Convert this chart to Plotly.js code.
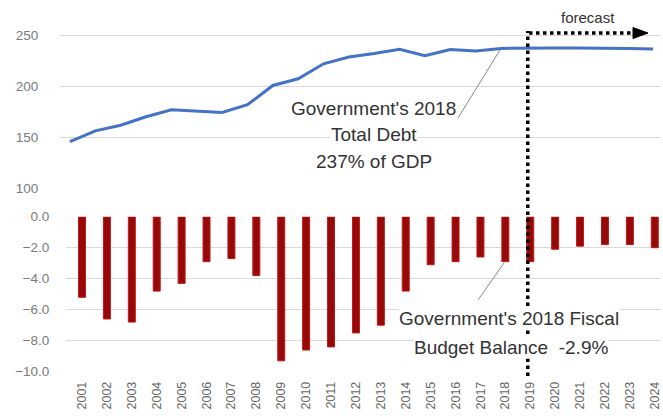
<!DOCTYPE html>
<html>
<head>
<meta charset="utf-8">
<script src="https://cdn.plot.ly/plotly-3.0.1.min.js"></script>
<style>html,body{margin:0;padding:0;background:#fff;}#chart{width:663px;height:418px;}</style>
</head>
<body>
<div id="chart"></div>
<script>
// ---- data ----
const years = ['2001','2002','2003','2004','2005','2006','2007','2008','2009','2010','2011','2012',
               '2013','2014','2015','2016','2017','2018','2019','2020','2021','2022','2023','2024'];
const debtPctGdp = [146,156.5,162,170.3,177,175.5,174.5,182,200.8,207.4,222,228.6,
                    232,236.2,230,236,234.6,237,237.5,237.5,237.5,237.5,237,236.5];
const fiscalBalance = [-5.2,-6.6,-6.8,-4.8,-4.3,-2.9,-2.7,-3.8,-9.3,-8.6,-8.4,-7.5,
                       -7.0,-4.8,-3.1,-2.9,-2.6,-2.9,-2.9,-2.1,-1.9,-1.8,-1.8,-2.0];
const debtTicks = [100,150,200,250];
const balanceTicks = [-10,-8,-6,-4,-2,0];
const forecastStart = '2019';

// ---- layout helpers ----
const W=663,H=418,L=58,R=2,T=30,B=46;
const pw=W-L-R, ph=H-T-B;
const px=p=>(p-L)/pw, py=p=>(H-B-p)/ph;
const fIdx = years.indexOf(forecastStart);

const traces = [
  {type:'scatter', mode:'lines', x:years.map((_,i)=>i), y:debtPctGdp, xaxis:'x2', yaxis:'y2',
   line:{color:'#4472C4', width:3}, hoverinfo:'skip'},
  {type:'bar', x:years.map((_,i)=>i), y:fiscalBalance, xaxis:'x', yaxis:'y',
   marker:{color:'#960909', line:{color:'#c41616', width:1}}, width:0.28, hoverinfo:'skip'}
];

const txtFont = {family:'Liberation Sans Narrow, Arial Narrow, Liberation Sans, sans-serif', size:19, color:'#333333'};
const annText = (t,x,y,size)=>({text:t, xref:'paper', yref:'paper', x:px(x), y:py(y), xanchor:'center', yanchor:'middle',
  showarrow:false, bgcolor:'#ffffff', borderpad:0, font:Object.assign({}, txtFont, size?{size:size}:{})});

const layout = {
  width:W, height:H, margin:{l:L, r:R, t:T, b:B}, paper_bgcolor:'#fff', plot_bgcolor:'rgba(0,0,0,0)',
  showlegend:false,
  font:{family:'Liberation Sans, Arial, sans-serif', color:'#6b6b6b'},
  xaxis:{domain:[px(66),1], range:[-0.643,23.25], anchor:'y', tickmode:'array',
         tickvals:years.map((_,i)=>i), ticktext:years, tickangle:-90, tickfont:{size:12.5, color:'#666666'},
         showgrid:false, zeroline:false, showline:false, ticks:'outside', ticklen:4, tickcolor:'rgba(0,0,0,0)'},
  yaxis:{domain:[py(371.7), py(216.7)], range:[-10,0], tickvals:balanceTicks, tickformat:'.1f',
         showgrid:true, gridcolor:'#d9d9d9', gridwidth:1, zeroline:false, showline:false,
         ticks:'outside', ticklen:13, tickcolor:'rgba(0,0,0,0)', tickfont:{size:13.5, color:'#7a7a7a'}},
  xaxis2:{domain:[px(60),1], range:[-0.394,23.31], anchor:'y2', showticklabels:false,
          showgrid:false, zeroline:false, showline:false, ticks:''},
  yaxis2:{domain:[py(188.7), 1], range:[100,255], tickvals:debtTicks, anchor:'x2',
          showgrid:true, gridcolor:'#d9d9d9', gridwidth:1, zeroline:false, showline:false,
          ticks:'outside', ticklen:18, tickcolor:'rgba(0,0,0,0)', tickfont:{size:13.5, color:'#7a7a7a'}},
  shapes:[
    // forecast divider
    {type:'line', xref:'x', yref:'paper', x0:fIdx-0.1, x1:fIdx-0.1, y0:py(376), y1:py(31),
     line:{color:'#000', width:3.5, dash:'dot'}},
    // forecast arrow
    {type:'line', xref:'paper', yref:'paper', x0:px(529), x1:px(636), y0:py(33), y1:py(33),
     line:{color:'#000', width:3.5, dash:'dot'}},
    {type:'path', xref:'paper', yref:'paper',
     path:`M ${px(633)} ${py(27.5)} L ${px(648)} ${py(33)} L ${px(633)} ${py(38.5)} Z`,
     fillcolor:'#000', line:{color:'#000', width:1}},
    // leader lines
    {type:'line', xref:'paper', yref:'paper', x0:px(458), x1:px(500), y0:py(118), y1:py(50),
     line:{color:'#8a8a8a', width:1}},
    {type:'line', xref:'paper', yref:'paper', x0:px(478), x1:px(504), y0:py(300), y1:py(263),
     line:{color:'#8a8a8a', width:1}}
  ],
  annotations:[
    annText("Government's 2018", 374, 108),
    annText("Total Debt", 374, 134),
    annText("237% of GDP", 374, 161),
    annText("Government's 2018 Fiscal", 509, 318),
    annText("Budget Balance  -2.9%", 511, 347),
    {text:'forecast', xref:'paper', yref:'paper', x:px(588), y:py(17), xanchor:'center', yanchor:'middle',
     showarrow:false, font:{family:'Liberation Sans Narrow, Arial Narrow, Liberation Sans, sans-serif', size:15, color:'#333333'}}
  ]
};

Plotly.newPlot('chart', traces, layout, {staticPlot:true, displayModeBar:false});
</script>
</body>
</html>
